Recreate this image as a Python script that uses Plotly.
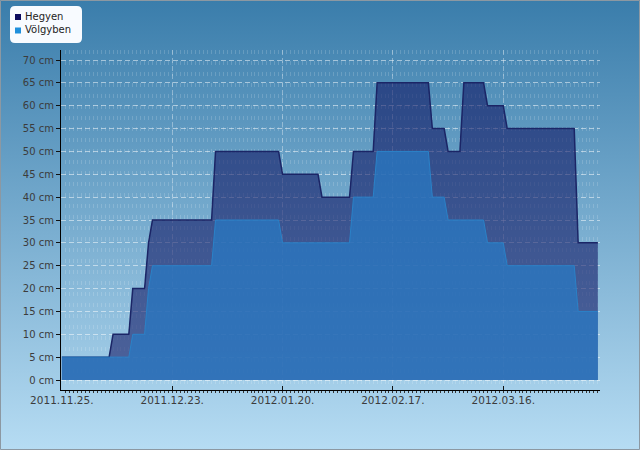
import base64
import plotly.graph_objects as go

# ---------------- data ----------------
series_names = ["Hegyen", "Völgyben"]

hegyen_dates = ["2011-11-25", "2011-12-07", "2011-12-08", "2011-12-12", "2011-12-13",
                "2011-12-16", "2011-12-17", "2011-12-18", "2012-01-02", "2012-01-03",
                "2012-01-19", "2012-01-20", "2012-01-29", "2012-01-30", "2012-02-06",
                "2012-02-07", "2012-02-12", "2012-02-13", "2012-02-26", "2012-02-27",
                "2012-03-01", "2012-03-02", "2012-03-05", "2012-03-06", "2012-03-11",
                "2012-03-12", "2012-03-16", "2012-03-17", "2012-04-03", "2012-04-04",
                "2012-04-09"]
hegyen_cm = [5, 5, 10, 10, 20,
             20, 30, 35, 35, 50,
             50, 45, 45, 40, 40,
             50, 50, 65, 65, 55,
             55, 50, 50, 65, 65,
             60, 60, 55, 55, 30,
             30]

volgy_dates = ["2011-11-25", "2011-12-12", "2011-12-13", "2011-12-16", "2011-12-17",
               "2011-12-18", "2012-01-02", "2012-01-03", "2012-01-19", "2012-01-20",
               "2012-02-06", "2012-02-07", "2012-02-12", "2012-02-13", "2012-02-26",
               "2012-02-27", "2012-03-01", "2012-03-02", "2012-03-11", "2012-03-12",
               "2012-03-16", "2012-03-17", "2012-04-03", "2012-04-04", "2012-04-09"]
volgy_cm = [5, 5, 10, 10, 20,
            25, 25, 35, 35, 30,
            30, 40, 40, 50, 50,
            40, 40, 35, 35, 30,
            30, 25, 25, 15, 15]

x_tick_dates = ["2011-11-25", "2011-12-23", "2012-01-20", "2012-02-17", "2012-03-16"]
x_tick_labels = ["2011.11.25.", "2011.12.23.", "2012.01.20.", "2012.02.17.", "2012.03.16."]
y_tick_values = [0, 5, 10, 15, 20, 25, 30, 35, 40, 45, 50, 55, 60, 65, 70]
y_tick_labels = [f"{v} cm" for v in y_tick_values]

# ---------------- layout helpers ----------------
W, H = 640, 450
L, R, T, B = 61, 40, 50, 60
PW, PH = W - L - R, H - T - B


def px(x):
    return (x - L) / PW


def py(y):
    return (H - B - y) / PH


FONT = "DejaVu Sans"
H_COLOR = "#0c0c5e"
V_COLOR = "#1f90dc"

fig = go.Figure()
fig.add_trace(go.Scatter(
    x=hegyen_dates, y=hegyen_cm, name=series_names[0], mode="lines",
    line=dict(color="#1b2566", width=1.5), fill="tozeroy",
    fillcolor="rgba(16,20,98,0.58)", showlegend=False, hoverinfo="skip"))
fig.add_trace(go.Scatter(
    x=volgy_dates, y=volgy_cm, name=series_names[1], mode="lines",
    line=dict(color="#2a82c8", width=1), fill="tozeroy",
    fillcolor="rgba(40,122,195,0.74)", showlegend=False, hoverinfo="skip"))

# gradient background as svg image
svg = (
    '<svg xmlns="http://www.w3.org/2000/svg" width="640" height="450" preserveAspectRatio="none">'
    '<defs><linearGradient id="g" x1="0" y1="0" x2="0" y2="1">'
    '<stop offset="0" stop-color="#3a7dab"/><stop offset="1" stop-color="#b6dcf3"/>'
    '</linearGradient></defs><rect width="640" height="450" fill="url(#g)"/></svg>'
)
src = "data:image/svg+xml;base64," + base64.b64encode(svg.encode()).decode()

shapes = []
# legend box (rounded)
x0, x1, y0, y1, r = 10, 82, 6, 43, 5
rx, ry = r / PW, r / PH
X0, X1, Y0, Y1 = px(x0), px(x1), py(y0), py(y1)
path = (f"M {X0+rx},{Y0} L {X1-rx},{Y0} Q {X1},{Y0} {X1},{Y0-ry} "
        f"L {X1},{Y1+ry} Q {X1},{Y1} {X1-rx},{Y1} L {X0+rx},{Y1} "
        f"Q {X0},{Y1} {X0},{Y1+ry} L {X0},{Y0-ry} Q {X0},{Y0} {X0+rx},{Y0} Z")
shapes.append(dict(type="path", path=path, xref="paper", yref="paper",
                   fillcolor="#f8fbff", line=dict(width=0), layer="above"))
for (yc, col) in [(17, H_COLOR), (30.5, V_COLOR)]:
    shapes.append(dict(type="rect", xref="paper", yref="paper",
                       x0=px(15), x1=px(21), y0=py(yc - 3), y1=py(yc + 3),
                       fillcolor=col, line=dict(width=0), layer="above"))
# outer border
shapes.append(dict(type="rect", xref="paper", yref="paper",
                   x0=px(0.5), x1=px(639.5), y0=py(0.5), y1=py(449.5),
                   line=dict(color="#8c98a2", width=1), fillcolor="rgba(0,0,0,0)",
                   layer="above"))

annotations = []
for name, yc in [(series_names[0], 16.5), (series_names[1], 30)]:
    annotations.append(dict(text=name, xref="paper", yref="paper", x=px(22.5), y=py(yc),
                            xanchor="left", yanchor="middle", showarrow=False,
                            font=dict(family=FONT, size=10, color="#1e1e1e")))

fig.update_layout(
    width=W, height=H, margin=dict(l=L, r=R, t=T, b=B, pad=0),
    paper_bgcolor="rgba(0,0,0,0)", plot_bgcolor="rgba(0,0,0,0)",
    images=[dict(source=src, xref="paper", yref="paper", x=px(0), y=py(0),
                 sizex=W / PW, sizey=H / PH, xanchor="left", yanchor="top",
                 sizing="stretch", layer="below")],
    shapes=shapes, annotations=annotations, showlegend=False,
    xaxis=dict(
        type="date", range=["2011-11-24 19:00", "2012-04-09 13:00"],
        tickvals=x_tick_dates, ticktext=x_tick_labels,
        ticks="inside", ticklen=4, tickcolor="#111", tickwidth=1,
        showline=True, linecolor="#000", linewidth=1,
        showgrid=True, gridcolor="rgba(255,255,255,0.35)", griddash="5px,3px",
        zeroline=False,
        minor=dict(dtick=86400000, ticks="outside", ticklen=2, tickcolor="#333",
                   showgrid=True, gridcolor="rgba(255,255,255,0.16)", griddash="4px,7px"),
        tickfont=dict(family=FONT, size=10.5, color="#3c3c3c"),
    ),
    yaxis=dict(
        range=[-2.1875, 72.1875], tickvals=y_tick_values, ticktext=y_tick_labels,
        ticks="outside", ticklen=4, tickcolor="#111", tickwidth=1,
        showline=True, linecolor="#000", linewidth=1,
        showgrid=True, gridcolor="rgba(255,255,255,0.5)", griddash="5px,3px",
        zeroline=False,
        tickfont=dict(family=FONT, size=10, color="#3c3c3c"),
    ),
)

fig.write_html("out.html")
